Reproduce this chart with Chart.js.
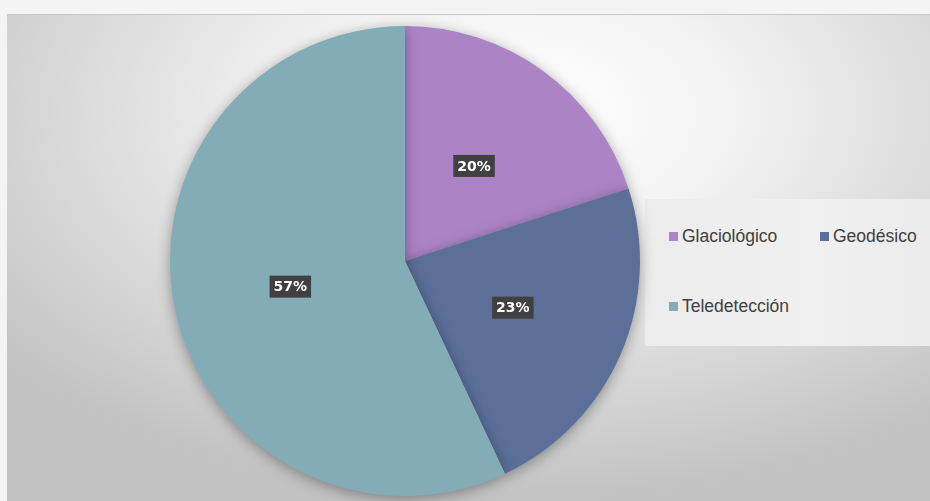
<!DOCTYPE html>
<html>
<head>
<meta charset="utf-8">
<script src="https://cdn.jsdelivr.net/npm/chart.js@4.4.0/dist/chart.umd.min.js"></script>
<style>
  html, body { margin: 0; padding: 0; }
  body { width: 930px; height: 501px; background: #f4f4f4; position: relative; overflow: hidden; font-family: "Liberation Sans", Arial, sans-serif; }
  .frame {
    position: absolute; left: 7px; top: 14px; width: 923px; height: 487px;
    background: radial-gradient(ellipse 72% 80% at 55% 20%, #ffffff 0%, #f3f3f3 32%, #d9d9d9 68%, #c2c2c2 100%);
    border-top: 1px solid #c8c8c8;
  }
  .frame canvas { position: absolute; left: 0; top: 0; }
  .legend {
    position: absolute; left: 638px; top: 184px; width: 285px; height: 147px;
    background: linear-gradient(90deg, #ececec, #f0f0f0 60%, #ebebeb);
  }
  .legend span { position: absolute; font-size: 17.5px; color: #404040; white-space: nowrap; }
  .legend i { display: inline-block; width: 9px; height: 9px; margin-right: 4px; vertical-align: 1px; }
</style>
</head>
<body>
<div class="frame">
  <div class="legend" id="legend"></div>
  <canvas id="pie" width="923" height="487"></canvas>
</div>
<script>
// Data
const labels = ['Glaciológico', 'Geodésico', 'Teledetección'];
const values = [20, 23, 57];
const colors = ['#ac84c6', '#5b6f99', '#83acb6'];

// Legend (HTML, two items on the first row)
const legendPos = [[24, 39], [175, 39], [24, 109]];
const legend = document.getElementById('legend');
labels.forEach((lab, i) => {
  const s = document.createElement('span');
  s.style.left = legendPos[i][0] + 'px';
  s.style.top = (legendPos[i][1] - 12) + 'px';
  s.innerHTML = '<i style="background:' + colors[i] + '"></i>' + lab;
  legend.appendChild(s);
});

// soft shadow behind the pie
const pieShadow = {
  id: 'pieShadow',
  beforeDatasetsDraw(chart) {
    const c = chart.ctx;
    c.save();
    c.shadowColor = 'rgba(0,0,0,0.35)';
    c.shadowBlur = 14;
    c.shadowOffsetY = 3;
  },
  afterDatasetsDraw(chart) {
    chart.ctx.restore();
  }
};

// percent labels in dark boxes
const boxLabels = {
  id: 'boxLabels',
  afterDraw(chart) {
    const c = chart.ctx;
    const total = values.reduce((a, b) => a + b, 0);
    chart.getDatasetMeta(0).data.forEach((arc, i) => {
      const p = arc.tooltipPosition();
      const txt = Math.round(values[i] / total * 100) + '%';
      c.save();
      c.font = 'bold 14px "DejaVu Sans", sans-serif';
      const w = c.measureText(txt).width + 8;
      const h = 22;
      c.fillStyle = '#404040';
      c.fillRect(p.x - w / 2, p.y - h / 2, w, h);
      c.fillStyle = '#ffffff';
      c.textAlign = 'center';
      c.textBaseline = 'middle';
      c.fillText(txt, p.x, p.y + 1);
      c.restore();
    });
  }
};

new Chart(document.getElementById('pie'), {
  type: 'pie',
  data: {
    labels: labels,
    datasets: [{
      data: values,
      backgroundColor: colors,
      borderWidth: 0
    }]
  },
  options: {
    responsive: false,
    animation: false,
    layout: { padding: { left: 163, right: 290, top: 11, bottom: 6 } },
    plugins: {
      legend: { display: false },
      tooltip: { enabled: false }
    }
  },
  plugins: [pieShadow, boxLabels]
});
</script>
</body>
</html>
